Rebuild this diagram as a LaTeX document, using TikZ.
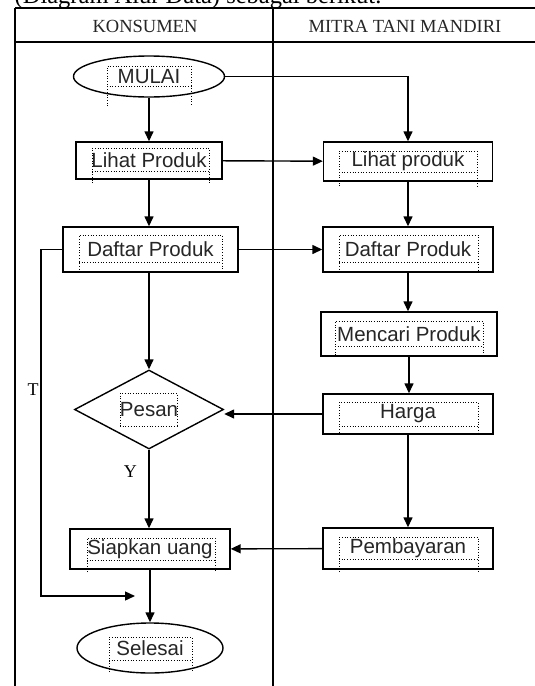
\documentclass[tikz,border=0pt]{standalone}
\usepackage{fontspec}
\setmainfont{Liberation Serif}
\newfontfamily\arialf{Liberation Sans}
\usetikzlibrary{shapes.geometric,arrows.meta}
\begin{document}
\begin{tikzpicture}[x=1pt,y=-1pt,
  line width=1.4pt,
  boxtext/.style={font=\arialf\fontsize{20.5}{24}\selectfont, text=black!85},
  procbox/.style={draw, rectangle, inner sep=0pt, boxtext},
  termbox/.style={draw, ellipse, inner sep=0pt, boxtext},
  decbox/.style={draw, diamond, inner sep=0pt, boxtext},
  flow/.style={-{Triangle[length=10pt,width=9pt]}},
  dotbox/.style={line width=0.7pt, dotted},
  hdr/.style={font=\fontsize{18.5}{22}\selectfont, text=black!85},
  lbl/.style={font=\fontsize{18}{22}\selectfont}
]
\useasboundingbox (0,0) rectangle (535,686);
\clip (0,0) rectangle (535,686);
\fill[white] (0,0) rectangle (535,686);

% cut-off text on top
\node[anchor=base west, inner sep=0pt, font=\fontsize{24.5}{28}\selectfont] (toptext) at (14,3) {(Diagram Alur Data) sebagai berikut.};

% table
\draw (15,8) -- (545,8);
\draw (15,42) -- (545,42);
\draw (15,8) -- (15,700);
\draw (273,8) -- (273,700);
\node[hdr] (h1) at (145,26) {KONSUMEN};
\node[hdr] (h2) at (405,26) {MITRA TANI MANDIRI};

% nodes
\node[termbox, minimum width=151pt, minimum height=41pt] (mulai) at (149,76.5) {MULAI};
\node[procbox, minimum width=146pt, minimum height=37pt] (lp1) at (149,160.5) {Lihat Produk};
\node[procbox, minimum width=169pt, minimum height=39pt] (lp2) at (408,161.5) {Lihat produk};
\node[procbox, minimum width=175pt, minimum height=45pt] (dp1) at (150.5,249.5) {Daftar Produk};
\node[procbox, minimum width=170pt, minimum height=45pt] (dp2) at (408,249.5) {Daftar Produk};
\node[procbox, minimum width=176pt, minimum height=44pt] (mp) at (409,334) {Mencari Produk};
\node[decbox, minimum width=149pt, minimum height=79pt, aspect=1.886] (pesan) at (149,409.5) {Pesan};
\node[procbox, minimum width=170pt, minimum height=40pt] (harga) at (408,414) {Harga};
\node[procbox, minimum width=160pt, minimum height=40pt] (siap) at (150,549) {Siapkan uang};
\node[procbox, minimum width=170pt, minimum height=41pt] (bayar) at (408,548.5) {Pembayaran};
\node[termbox, minimum width=146pt, minimum height=50pt] (selesai) at (150,648) {Selesai};

% dotted text frames
\draw[dotbox] (107,106) -- (107,66) -- (191,66) -- (191,106) (107,86) -- (191,86);
\draw[dotbox] (92,183) -- (92,148) -- (209,148) -- (209,183) (92,171) -- (209,171);
\draw[dotbox] (339,186) -- (339,151) -- (477,151) -- (477,186) (339,172) -- (477,172);
\draw[dotbox] (79,272) -- (79,235) -- (222,235) -- (222,272) (79,262) -- (222,262);
\draw[dotbox] (339,272) -- (339,235) -- (478,235) -- (478,272) (339,262) -- (478,262);
\draw[dotbox] (335,355) -- (335,321) -- (483,321) -- (483,355) (335,346) -- (483,346);
\draw[dotbox] (120,426) -- (120,393) -- (177,393) -- (177,426) (120,426) -- (177,426);
\draw[dotbox] (339,435) -- (339,402) -- (478,402) -- (478,435) (339,426) -- (478,426);
\draw[dotbox] (87,572) -- (87,538) -- (215,538) -- (215,572) (87,560) -- (215,560);
\draw[dotbox] (339,572) -- (339,537) -- (478,537) -- (478,572) (339,559) -- (478,559);
\draw[dotbox] (109,672) -- (109,637) -- (192,637) -- (192,672) (109,660) -- (192,660);

% connectors
\draw[flow] (mulai) -- (lp1);
\draw[flow] (mulai.east) -| (lp2.north);
\draw[flow] (lp1) -- (lp2);
\draw[flow] (lp1.south) -- (lp1.south |- dp1.north);
\draw[flow] (lp2) -- (lp2.south |- dp2.north);
\draw[flow] (dp1) -- (dp2);
\draw[flow] (dp2) -- (dp2.south |- mp.north);
\draw[flow] (mp) -- (mp.south |- harga.north);
\draw[flow] (dp1.south -| pesan.north) -- (pesan.north);
\draw[flow] (harga.west) -- (pesan.east |- harga.west);
\draw[flow] (pesan.south) -- node[lbl, pos=0.28, left=8pt] (ylbl) {Y} (pesan.south |- siap.north);
\draw[flow] (harga) -- (harga.south |- bayar.north);
\draw[flow] (bayar) -- (siap);
\draw[flow] (siap.south -| selesai.north) -- (selesai.north);
\coordinate (tend) at (135,596);
\draw[flow] (dp1.west) -- (41,249.5) -- (41,596) -- (tend);
\node[lbl] (tlbl) at (33,390) {T};
\end{tikzpicture}
\end{document}
